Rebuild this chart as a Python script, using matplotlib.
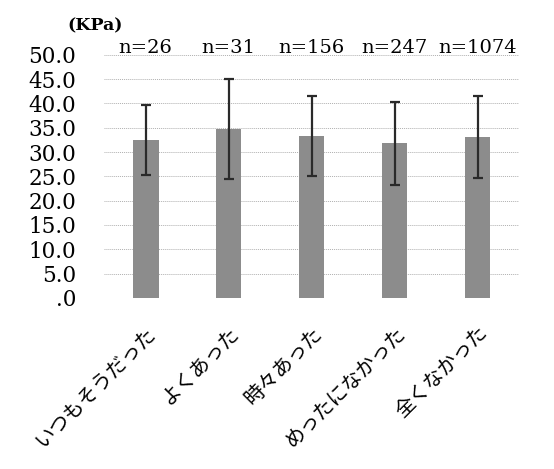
import matplotlib
matplotlib.use("Agg")
import matplotlib.pyplot as plt
import numpy as np

categories = ["いつもそうだった", "よくあった", "時々あった", "めったになかった", "全くなかった"]
means = [32.4, 34.7, 33.3, 31.8, 33.15]
sds = [7.2, 10.3, 8.3, 8.5, 8.4]
n_labels = ["n=26", "n=31", "n=156", "n=247", "n=1074"]
yticks = [0, 5, 10, 15, 20, 25, 30, 35, 40, 45, 50]
ytick_labels = [".0", "5.0", "10.0", "15.0", "20.0", "25.0", "30.0", "35.0", "40.0", "45.0", "50.0"]

fig = plt.figure(figsize=(5.54, 4.69), dpi=100)
ax = fig.add_axes([0.188, 0.365, 0.749, 0.518])

x = np.arange(len(categories))
ax.bar(x, means, width=0.31, color="#8c8c8c", zorder=2)
ax.errorbar(x, means, yerr=sds, fmt="none", ecolor="#2a2a2a", elinewidth=1.6,
            capsize=3.8, capthick=1.6, zorder=3)

ax.set_xlim(-0.5, len(categories) - 0.5)
ax.set_ylim(0, 50)
ax.set_yticks(yticks)
ax.set_yticklabels(ytick_labels, fontfamily="DejaVu Serif", fontsize=15.5)
ax.tick_params(axis="y", length=0, pad=20)
ax.grid(axis="y", color="#b0b0b0", linestyle=(0, (1, 1)), linewidth=0.7, zorder=1)
ax.set_axisbelow(True)
for s in ax.spines.values():
    s.set_visible(False)

ax.set_xticks(x)
ax.set_xticklabels(categories, fontfamily=["Noto Sans CJK JP", "DejaVu Sans"], fontsize=14.5,
                   rotation=45, ha="right", va="top", rotation_mode="anchor")
ax.tick_params(axis="x", length=0, pad=18)

for xi, lab in zip(x, n_labels):
    ax.text(xi, 50.4, lab, ha="center", va="baseline", fontfamily="DejaVu Serif",
            fontsize=14, clip_on=False)

fig.text(0.171, 0.945, "(KPa)", ha="center", va="center", fontfamily="DejaVu Serif",
         fontsize=12.5, fontweight="bold")

fig.savefig("out.png", dpi=100)
